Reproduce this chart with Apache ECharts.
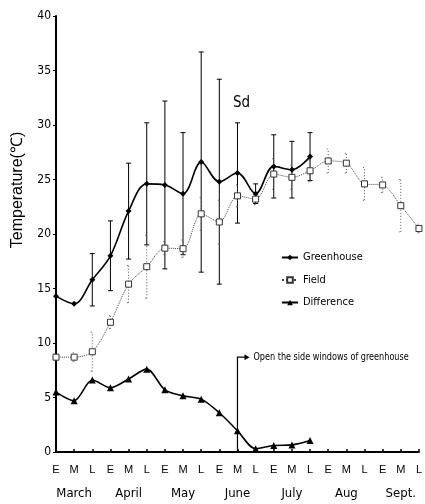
<!DOCTYPE html>
<html>
<head>
<meta charset="utf-8">
<script src="https://cdn.jsdelivr.net/npm/echarts@6/dist/echarts.min.js"></script>
<style>
html, body { margin: 0; padding: 0; background: #fff; }
#chart { width: 425px; height: 504px; }
</style>
</head>
<body>
<div id="chart"></div>
<script>
// 旬：E=上旬 M=中旬 L=下旬，三月到九月
const months = ['March', 'April', 'May', 'June', 'July', 'Aug', 'Sept.'];
const periods = ['E', 'M', 'L', 'E', 'M', 'L', 'E', 'M', 'L', 'E', 'M', 'L',
                 'E', 'M', 'L', 'E', 'M', 'L', 'E', 'M', 'L'];

// 温室平均气温及标准差
const greenhouse   = [14.3, 13.6, 15.8, 18.0, 22.1, 24.6, 24.5, 23.7, 26.6, 24.8, 25.6, 23.7, 26.2, 25.9, 27.1];
const greenhouseSd = [0, 0, 2.4, 3.2, 4.4, 5.6, 7.7, 5.6, 10.1, 9.4, 4.6, 0.9, 2.9, 2.6, 2.2];

// 露地平均气温及标准差
const field   = [8.7, 8.7, 9.2, 11.9, 15.4, 17.0, 18.7, 18.65, 21.85, 21.1, 23.5, 23.2, 25.5, 25.2, 25.8,
                 26.7, 26.5, 24.6, 24.5, 22.6, 20.5];
const fieldSd = [0.3, 0.4, 1.8, 0.6, 1.7, 2.9, 0.6, 0.8, 1.5, 2.0, 1.0, 0.5, 1.4, 1.1, 1.0,
                 1.1, 0.9, 1.5, 0.7, 2.4, 0.4];

// 温差
const difference = [5.5, 4.7, 6.6, 5.9, 6.7, 7.6, 5.7, 5.15, 4.85, 3.6, 1.95, 0.3, 0.6, 0.65, 1.05];

// 开侧窗的时间点（六月中旬）
const windowOpenAt = 10;
const arrowTop = 8.7;

const narrow = '"Liberation Sans Narrow", "DejaVu Sans Condensed", "Liberation Sans", sans-serif';

const monthLabels = periods.map(function (p, i) {
    return p === 'M' ? months[Math.floor(i / 3)] : '';
});

function barData(values, sd) {
    const out = [];
    values.forEach(function (v, i) {
        if (sd[i] > 0) out.push([i, v - sd[i], v + sd[i]]);
    });
    return out;
}

function errorBar(capW, style) {
    return function (params, api) {
        const x = api.value(0);
        const lo = api.coord([x, api.value(1)]);
        const hi = api.coord([x, api.value(2)]);
        return {
            type: 'group',
            children: [
                { type: 'line', shape: { x1: lo[0], y1: lo[1], x2: hi[0], y2: hi[1] }, style: style },
                { type: 'line', shape: { x1: hi[0] - capW, y1: hi[1], x2: hi[0] + capW, y2: hi[1] }, style: style },
                { type: 'line', shape: { x1: lo[0] - capW, y1: lo[1], x2: lo[0] + capW, y2: lo[1] }, style: style }
            ]
        };
    };
}

const chartDom = document.getElementById('chart');
const myChart = echarts.init(chartDom);

const option = {
    animation: false,
    backgroundColor: '#fff',
    grid: { left: 56, right: 4, top: 16, bottom: 52 },
    legend: {
        data: ['Greenhouse', 'Field', 'Difference'],
        orient: 'vertical',
        left: 276,
        top: 247,
        itemWidth: 16,
        itemHeight: 7,
        itemGap: 11.5,
        textStyle: { fontSize: 11, color: '#000', fontFamily: narrow }
    },
    xAxis: [
        {
            type: 'category',
            data: periods,
            boundaryGap: false,
            axisLine: { lineStyle: { color: '#000', width: 2 } },
            axisTick: { inside: true, length: 3, interval: 0, lineStyle: { color: '#000', width: 1.5 } },
            axisLabel: { interval: 0, margin: 12, fontSize: 11, color: '#000', fontFamily: 'Liberation Sans' }
        },
        {
            type: 'category',
            data: monthLabels,
            position: 'bottom',
            boundaryGap: false,
            axisLine: { show: false },
            axisTick: { show: false },
            axisLabel: { interval: 0, margin: 35, fontSize: 13, color: '#000', fontFamily: narrow }
        }
    ],
    yAxis: {
        type: 'value',
        min: 0,
        max: 40,
        interval: 5,
        splitLine: { show: false },
        axisLine: { show: true, lineStyle: { color: '#000', width: 2 } },
        axisTick: { show: true, length: 3, lineStyle: { color: '#000' } },
        axisLabel: { margin: 5, fontSize: 12, color: '#000', fontFamily: narrow }
    },
    graphic: [
        {
            type: 'text',
            x: 18, y: 190,
            rotation: Math.PI / 2,
            style: {
                text: 'Temperature(℃)',
                fontSize: 16,
                fontFamily: 'Liberation Sans',
                fill: '#000',
                align: 'center',
                verticalAlign: 'middle'
            }
        },
        {
            type: 'text',
            x: 233, y: 96,
            style: { text: 'Sd', fontSize: 15, fontFamily: narrow, fill: '#000' }
        }
    ],
    series: [
        {
            name: 'GreenhouseSd',
            type: 'custom',
            renderItem: errorBar(2.5, { stroke: '#000', lineWidth: 1 }),
            encode: { x: 0, y: [1, 2] },
            data: barData(greenhouse, greenhouseSd),
            z: 1
        },
        {
            name: 'FieldSd',
            type: 'custom',
            renderItem: errorBar(1.5, { stroke: '#555', lineWidth: 1, lineDash: [1, 2] }),
            encode: { x: 0, y: [1, 2] },
            data: barData(field, fieldSd),
            z: 1
        },
        {
            name: 'Greenhouse',
            type: 'line',
            data: greenhouse,
            smooth: 0.35,
            symbol: 'diamond',
            symbolSize: 6,
            itemStyle: { color: '#000' },
            lineStyle: { color: '#000', width: 1.6 },
            z: 3
        },
        {
            name: 'Field',
            type: 'line',
            data: field,
            smooth: 0.3,
            symbol: 'rect',
            symbolSize: 6,
            itemStyle: { color: '#fff', borderColor: '#333', borderWidth: 1 },
            lineStyle: { color: '#444', width: 1, type: 'dotted' },
            z: 3
        },
        {
            name: 'Difference',
            type: 'line',
            data: difference,
            smooth: 0.3,
            symbol: 'triangle',
            symbolSize: 7,
            itemStyle: { color: '#000' },
            lineStyle: { color: '#000', width: 1.6 },
            z: 3
        },
        {
            name: 'WindowArrow',
            type: 'custom',
            data: [[windowOpenAt, arrowTop]],
            encode: { x: 0, y: 1 },
            renderItem: function (params, api) {
                const base = api.coord([api.value(0), 0]);
                const top = api.coord([api.value(0), api.value(1)]);
                const stroke = { stroke: '#000', lineWidth: 1.2, fill: null };
                return {
                    type: 'group',
                    children: [
                        { type: 'polyline', shape: { points: [base, top, [top[0] + 8, top[1]]] }, style: stroke },
                        { type: 'polygon', shape: { points: [[top[0] + 7, top[1] - 3], [top[0] + 12, top[1]], [top[0] + 7, top[1] + 3]] }, style: { fill: '#000' } },
                        {
                            type: 'text', x: top[0] + 16, y: top[1], scaleX: 0.82,
                            style: { text: 'Open the side windows of greenhouse', fontSize: 11, fontFamily: narrow, fill: '#000', verticalAlign: 'middle', align: 'left' }
                        }
                    ]
                };
            },
            z: 4
        }
    ]
};

myChart.setOption(option);
</script>
</body>
</html>
